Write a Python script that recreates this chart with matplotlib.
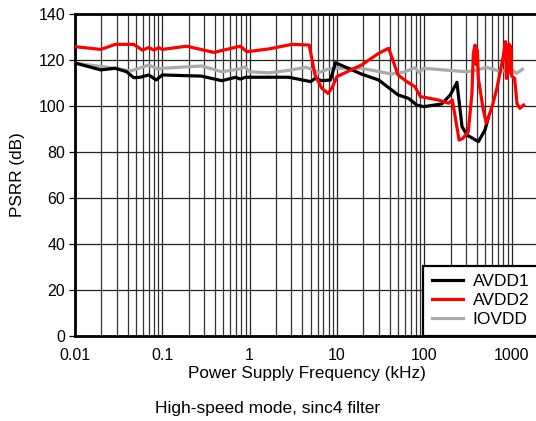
import numpy as np
import matplotlib
matplotlib.use("Agg")
import matplotlib.pyplot as plt
from matplotlib.ticker import LogLocator, FixedLocator

# frequencies in kHz, PSRR in dB
avdd1_f = [0.01, 0.0197, 0.029, 0.039, 0.047, 0.056, 0.07, 0.085, 0.1, 0.28, 0.48,
           0.69, 0.78, 0.89, 1.65, 2.8, 5.0, 5.6, 6.7, 8.4, 9.6, 19, 30, 50, 66,
           82, 98, 158, 198, 236, 270, 308, 415, 495, 540]
avdd1_db = [118.7, 115.7, 116.4, 114.9, 112.3, 112.5, 113.5, 111.3, 113.5, 113, 111,
            112.5, 111.7, 112.5, 112.5, 112.5, 110.6, 112, 111, 111.3, 118.8, 113.9, 111.3, 104.8, 103.3,
            100.4, 99.7, 100.9, 104.8, 110.3, 91, 87.4, 84.5, 89.6, 95]

avdd2_f = [0.01, 0.0197, 0.029, 0.047, 0.059, 0.07, 0.08, 0.091, 0.1, 0.19, 0.39,
           0.78, 0.93, 1.65, 3.05, 4.8, 5.6, 6.7, 7.9, 8.7, 10, 19, 30, 39, 50,
           63, 78, 90, 145, 190, 209, 250, 275, 318, 350, 364, 380, 392, 405, 415,
           473, 512, 600, 680, 732, 800, 848, 870, 890, 910, 930, 950, 975, 1000,
           1080, 1150, 1240, 1370]
avdd2_db = [125.8, 124.6, 126.8, 126.8, 124.3, 125.4, 124.3, 125.4, 124.6, 126, 123.3,
            126, 123.6, 124.8, 126.8, 126.5, 113.5, 107.7, 105.5, 107.7, 112.8, 117.8, 122.9, 125.1, 113.5,
            110.6, 108.4, 104.1, 102.6, 101.2, 102.6, 85.2, 85.9, 88.8, 105, 122.9, 126.5, 118, 124.3, 112,
            98.3, 92.5, 100, 108, 114.2, 121.6, 128, 112, 126, 114, 127, 116, 126, 113,
            112, 101, 99, 100.4]

iovdd_f = [0.01, 0.0197, 0.029, 0.043, 0.05, 0.07, 0.09, 0.1, 0.28, 0.48, 0.77,
           0.88, 1.0, 1.65, 2.8, 4.4, 5.3, 6.1, 7.9, 9.6, 19, 30, 42, 60,
           78, 87, 98, 300, 390, 510, 770, 960, 1140, 1330]
iovdd_db = [118.6, 117.2, 116.4, 115.2, 116, 117.8, 116, 116.4, 117.4, 114.9, 116.1,
            117, 114.9, 114.4, 115.5, 116.8, 115.8, 114.5, 116, 116.4, 116.4, 115, 113.9, 114.9,
            116.7, 114.5, 116.4, 114.9, 115.5, 116.8, 114.9, 116.4, 114.2, 116]

x_ticks = [0.01, 0.1, 1, 10, 100, 1000]
x_labels = ["0.01", "0.1", "1", "10", "100", "1000"]
y_ticks = [0, 20, 40, 60, 80, 100, 120, 140]

plt.rcParams['font.family'] = ['Liberation Sans', 'DejaVu Sans']

fig = plt.figure(figsize=(5.36, 4.21), dpi=100)
ax = fig.add_axes([75 / 536, 1 - 336 / 421, 463 / 536, 322 / 421])

ax.plot(avdd1_f, avdd1_db, color="black", lw=2.3, label="AVDD1", zorder=3)
ax.plot(avdd2_f, avdd2_db, color="#ff0000", lw=2.3, label="AVDD2", zorder=4)
ax.plot(iovdd_f, iovdd_db, color="#aaaaaa", lw=2.3, label="IOVDD", zorder=2)

ax.set_xscale("log")
ax.set_xlim(0.01, 2000)
ax.set_ylim(0, 140)
ax.xaxis.set_major_locator(FixedLocator(x_ticks))
ax.set_xticklabels(x_labels)
ax.xaxis.set_minor_locator(LogLocator(base=10, subs=np.arange(2, 10), numticks=20))
ax.xaxis.set_minor_formatter(plt.NullFormatter())
ax.set_yticks(y_ticks)

ax.grid(True, which="major", color="#222222", lw=0.9)
ax.grid(True, which="minor", axis="x", color="#333333", lw=0.9)
ax.tick_params(axis="x", which="both", length=0, labelsize=11.5, pad=9)
ax.tick_params(axis="y", length=4, width=0.9, labelsize=11.5, pad=3)

for s in ["left", "top", "bottom"]:
    ax.spines[s].set_linewidth(2)
ax.spines["right"].set_visible(False)

ax.set_xlabel("Power Supply Frequency (kHz)", fontsize=12.3, labelpad=2)
ax.set_ylabel("PSRR (dB)", fontsize=12.3, labelpad=10)

leg = ax.legend(loc="lower right", bbox_to_anchor=(1.0, 0.0), borderaxespad=0,
                fancybox=False, fontsize=12.5, handlelength=1.8, handletextpad=0.55,
                labelspacing=0.22, borderpad=0.5, framealpha=1)
leg.get_frame().set_edgecolor("black")
leg.get_frame().set_linewidth(1.6)

fig.text(0.5, 1 - 408 / 421, "High-speed mode, sinc4 filter", ha="center", va="center", fontsize=12.5)

fig.savefig("out.png", dpi=100)
